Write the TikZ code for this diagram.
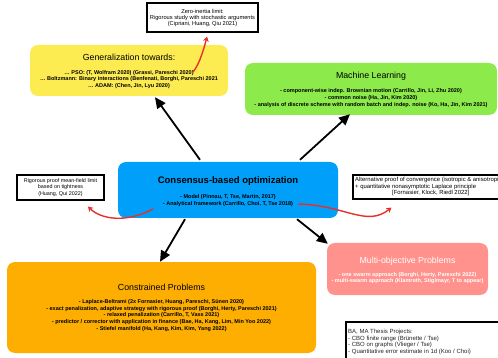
\documentclass[tikz,border=0pt]{standalone}
\usepackage{fontspec}
\setmainfont{Liberation Sans}
\usetikzlibrary{arrows.meta,calc}
\definecolor{cyel}{RGB}{253,235,82}
\definecolor{cgrn}{RGB}{140,234,74}
\definecolor{cblu}{RGB}{0,160,250}
\definecolor{cpnk}{RGB}{255,146,140}
\definecolor{corg}{RGB}{253,174,0}
\definecolor{cred}{RGB}{232,48,40}
\tikzset{
  cbox/.style={rectangle, rounded corners=8pt, inner sep=0pt, draw=none},
  nbox/.style={rectangle, inner sep=0pt, draw=black, line width=1.1pt, fill=white},
  ttl/.style={inner sep=0pt, font=\fontsize{8.8}{10}\selectfont},
  bdy/.style={inner sep=0pt, align=center, font=\fontsize{5.5}{6.6}\selectfont\bfseries},
  note/.style={inner sep=0pt, align=center, font=\fontsize{5.7}{6.2}\selectfont},
  blk/.style={draw=black, line width=1.8pt, -{Triangle[length=11pt,width=10pt]}},
  rdl/.style={draw=cred, line width=1.4pt, -{Stealth[length=5pt,width=6pt]}}
}
\begin{document}
\begin{tikzpicture}[x=1pt,y=-1pt]
\useasboundingbox (0,0) rectangle (498,358);
\clip (0,0) rectangle (498,358);
% boxes
\node[nbox, minimum width=111pt, minimum height=29pt] (zero) at (202.5,17.5) {};
\node[cbox, fill=cyel, minimum width=198pt, minimum height=51pt] (gen) at (129,70.5) {};
\node[cbox, fill=cgrn, minimum width=252pt, minimum height=52pt] (ml) at (371,89) {};
\node[cbox, fill=cblu, minimum width=220pt, minimum height=56pt] (cbo) at (228,190) {};
\node[nbox, minimum width=87pt, minimum height=25pt] (rig) at (60.5,187.5) {};
\node[nbox, minimum width=157pt, minimum height=24pt] (alt) at (431.5,187) {};
\node[cbox, fill=cpnk, minimum width=161pt, minimum height=52pt] (mop) at (407.5,269) {};
\node[cbox, fill=corg, minimum width=309pt, minimum height=91pt] (con) at (161.5,307.5) {};
\node[nbox, minimum width=154pt, minimum height=40pt] (ba) at (423,342) {};
% texts
\node[note] (zerot) at (202.5,18) {Zero-inertia limit:\\Rigorous study with stochastic arguments\\(Cipriani, Huang, Qiu 2021)};
\node[ttl] (gent) at (129,57) {Generalization towards:};
\node[bdy] (genb) at (129,79.5) {\dots\ PSO: (T, Wolfram 2020) (Grassi, Pareschi 2020)\\\dots\ Boltzmann: Binary interactions (Benfenati, Borghi, Pareschi 2021\\\dots\ ADAM: (Chen, Jin, Lyu 2020)};
\node[ttl] (mlt) at (371,76) {Machine Learning};
\node[bdy] (mlb) at (371,98) {- component-wise indep. Brownian motion (Carrillo, Jin, Li, Zhu 2020)\\- common noise (Ha, Jin, Kim 2020)\\- analysis of discrete scheme with random batch and indep. noise (Ko, Ha, Jin, Kim 2021)};
\node[ttl, font=\fontsize{9.5}{10}\selectfont\bfseries] (cbot) at (228,181) {Consensus-based optimization};
\node[bdy] (cbob) at (228,200.5) {- Model (Pinnau, T, Tse, Martin, 2017)\\- Analytical framework (Carrillo, Choi, T, Tse 2018)};
\node[note, font=\fontsize{5.4}{6.2}\selectfont] (rigt) at (60.5,187.5) {Rigorous proof mean-field limit\\based on tightness\\(Huang, Qui 2022)};
\node[note, align=left, anchor=west, font=\fontsize{5.9}{6.3}\selectfont] (altt) at (355,186.5) {Alternative proof of convergence (isotropic \& anisotropic)\\+ quantitative nonasymptotic Laplace principle\\\hspace*{37pt}[Fornasier, Klock, Riedl 2022]};
\node[ttl, text=white] (mopt) at (407.5,261) {Multi-objective Problems};
\node[bdy, text=white] (mopb) at (407.5,278) {- one swarm approach (Borghi, Herty, Pareschi 2022)\\- multi-swarm approach (Klamroth, Stiglmayr, T to appear)};
\node[ttl] (cont) at (161.5,287) {Constrained Problems};
\node[bdy, font=\fontsize{5.5}{6.75}\selectfont\bfseries] (conb) at (161.5,315.5) {- Laplace-Beltrami (2x Fornasier, Huang, Pareschi, Sünen 2020)\\- exact penalization, adaptive strategy with rigorous proof (Borghi, Herty, Pareschi 2021)\\- relaxed penalization (Carrillo, T, Vass 2021)\\- predictor / corrector with application in finance (Bae, Ha, Kang, Lim, Min Yoo 2022)\\- Stiefel manifold (Ha, Kang, Kim, Kim, Yang 2022)};
\node[note, align=left, anchor=west, text=black!85, font=\fontsize{6}{6.7}\selectfont] (bat) at (348,342) {BA, MA Thesis Projects:\\- CBO finite range (Brünette / Tse)\\- CBO on graphs (Vlieger / Tse)\\- Quantitative error estimate in 1d (Koo / Choi)};
% black arrows
\draw[blk] ([xshift=-28pt,yshift=2pt]cbo.north) -- ([xshift=26pt,yshift=-1pt]gen.south);
\draw[blk] ([xshift=72pt,yshift=2pt]cbo.north) -- ([xshift=-21pt,yshift=1pt]ml.south);
\draw[blk] ([xshift=-43pt,yshift=-1pt]cbo.south) -- ([xshift=-1.5pt]con.north);
\draw[blk] ([xshift=69pt,yshift=-1pt]cbo.south) -- ([xshift=1pt,yshift=-1pt]mop.north west);
% red arrows
\draw[rdl] ([xshift=64pt,yshift=-1.5pt]gen.center) .. controls +(7,-8) and +(-2,8) .. ([xshift=4.5pt,yshift=-4pt]zero.south);
\draw[rdl] ([xshift=-75pt,yshift=-19pt]cbo.center) .. controls +(-28,15) and +(12,12) .. ([xshift=27.5pt,yshift=-6pt]rig.south);
\draw[rdl] ([xshift=70pt,yshift=-14pt]cbo.center) .. controls +(47,1) and +(-25,20) .. ([xshift=39pt,yshift=-8pt]alt.south west);
\end{tikzpicture}
\end{document}
